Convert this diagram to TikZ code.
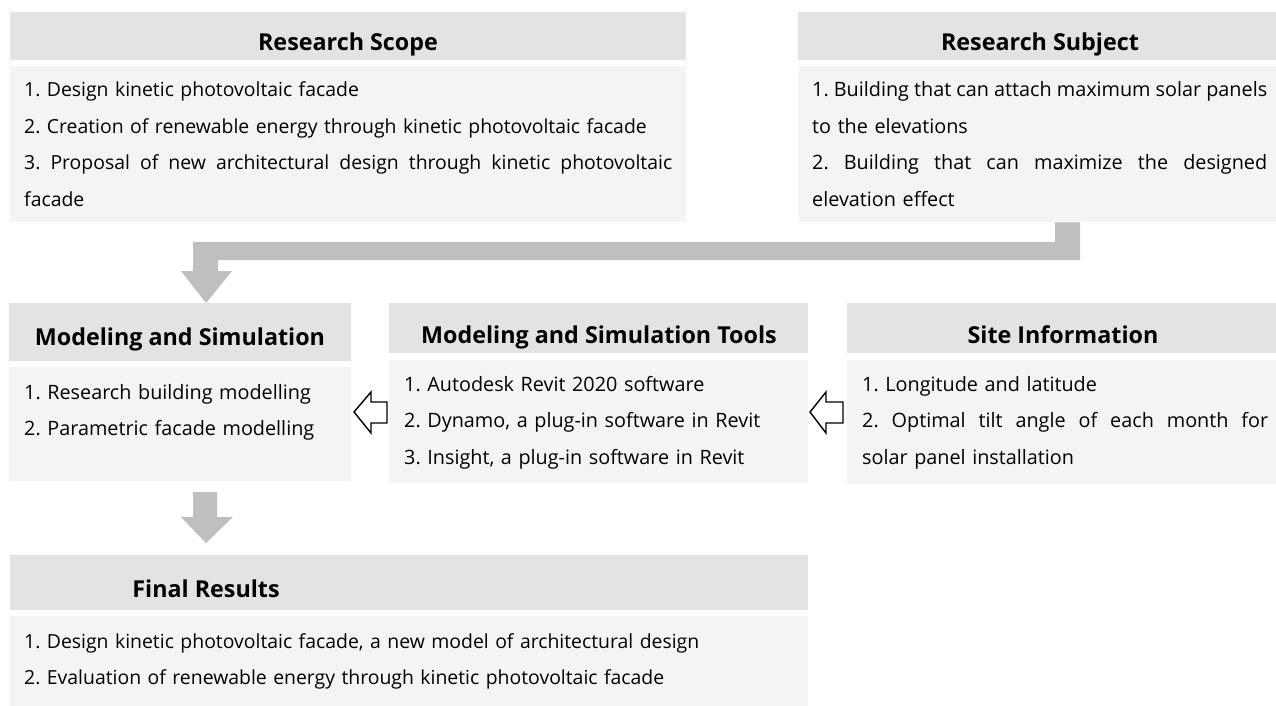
\documentclass[tikz,border=0pt]{standalone}
\usepackage{fontspec}
\setmainfont{Open Sans}
\definecolor{hdrgray}{HTML}{E3E3E3}
\definecolor{bodygray}{HTML}{F4F4F4}
\definecolor{arrgray}{HTML}{BFBFBF}
% a line spread out (or squeezed) to a given width
\newcommand{\jline}[2]{\leavevmode\hbox to #1{\spaceskip=0.26em plus 1fil minus 0.12em\relax #2}}
\frenchspacing
\begin{document}
\begin{tikzpicture}[x=1pt,y=-1pt,
  hdr/.style={fill=hdrgray, inner sep=0, anchor=north west},
  bodybox/.style={fill=bodygray, inner sep=0, anchor=north west},
  ttl/.style={font=\fontsize{23.3}{27}\selectfont\bfseries, inner sep=0, anchor=base},
  lines/.style={font=\fontsize{19.8}{36.5}\selectfont, inner sep=0, anchor=base west, align=left},
  slines/.style={font=\fontsize{19.4}{36.5}\selectfont, inner sep=0, anchor=base west, align=left},
  bigarrow/.style={fill=arrgray, draw=none},
  hollow/.style={draw=black, line width=1.4pt, fill=white, line join=miter}]
\useasboundingbox (0,0) rectangle (1276,706);
\fill[white] (0,0) rectangle (1276,706);

% boxes: header strips and body panels
\node[hdr, minimum width=676pt, minimum height=48pt] (scopeH) at (10,12) {};
\node[bodybox, minimum width=676pt, minimum height=156pt] (scopeB) at (10,66) {};
\node[hdr, minimum width=478pt, minimum height=48pt] (subjH) at (798,12) {};
\node[bodybox, minimum width=478pt, minimum height=156pt] (subjB) at (798,66) {};
\node[hdr, minimum width=342pt, minimum height=58pt] (modH) at (9,303) {};
\node[bodybox, minimum width=342pt, minimum height=114pt] (modB) at (9,367) {};
\node[hdr, minimum width=419pt, minimum height=50pt] (toolH) at (389,303) {};
\node[bodybox, minimum width=419pt, minimum height=123pt] (toolB) at (389,360) {};
\node[hdr, minimum width=429pt, minimum height=50pt] (siteH) at (847,303) {};
\node[bodybox, minimum width=429pt, minimum height=124pt] (siteB) at (847,360) {};
\node[hdr, minimum width=798pt, minimum height=55pt] (finH) at (10,555) {};
\node[bodybox, minimum width=798pt, minimum height=90pt] (finB) at (10,616) {};

% titles
\node[ttl] (scopeT) at (348,51) {Research Scope};
\node[ttl] (subjT) at (1040,51) {Research Subject};
\node[ttl] (modT) at (180,345) {Modeling and Simulation};
\node[ttl] (toolT) at (599,343) {Modeling and Simulation Tools};
\node[ttl] (siteT) at (1063,343) {Site Information};
\node[ttl] (finT) at (206,597) {Final Results};

% body texts
\node[slines, text width=660pt] (scopeL) at (24,97) {1. Design kinetic photovoltaic facade\\
2. Creation of renewable energy through kinetic photovoltaic facade\\
\jline{648pt}{3. Proposal of new architectural design through kinetic photovoltaic}\\
facade};
\node[lines, text width=462pt] (subjL) at (812,97) {\jline{455pt}{1. Building that can attach maximum solar panels}\\
to the elevations\\
\jline{455pt}{2. Building that can maximize the designed}\\
elevation effect};
\node[lines, text width=320pt] (modL) at (24,399) {1. Research building modelling\\
2. Parametric facade modelling};
\node[lines, text width=400pt] (toolL) at (404,391) {1. Autodesk Revit 2020 software\\
2. Dynamo, a plug-in software in Revit\\
3. Insight, a plug-in software in Revit};
\node[lines, text width=410pt] (siteL) at (862,391) {1. Longitude and latitude\\
\jline{406pt}{2. Optimal tilt angle of each month for}\\
solar panel installation};
\node[slines, text width=780pt] (finL) at (24,648) {1. Design kinetic photovoltaic facade, a new model of architectural design\\
2. Evaluation of renewable energy through kinetic photovoltaic facade};

% flow from the research subject down to modelling
\fill[bigarrow] (subjB.south -| 1055,0) -- (subjB.south -| 1080,0) -- (1080,260) -- (218,260)
  -- (218,271) -- (232,271) -- (modH.north -| 206,0) -- (181,271) -- (193,271) -- (193,242)
  -- (1055,242) -- cycle;
% flow from modelling down to the final results
\fill[bigarrow] (193,492) -- (217,492) -- (217,517) -- (233,517)
  -- (206,543) -- (181,517) -- (193,517) -- cycle;

% outlined arrows pointing left
\draw[hollow] (354,412) -- (371,392) -- (371,402) -- (387,402) -- (387,423) -- (371,423) -- (371,433) -- cycle;
\draw[hollow] (810,412) -- (826,392) -- (826,402) -- (843,402) -- (843,423) -- (826,423) -- (826,433) -- cycle;
\end{tikzpicture}
\end{document}
